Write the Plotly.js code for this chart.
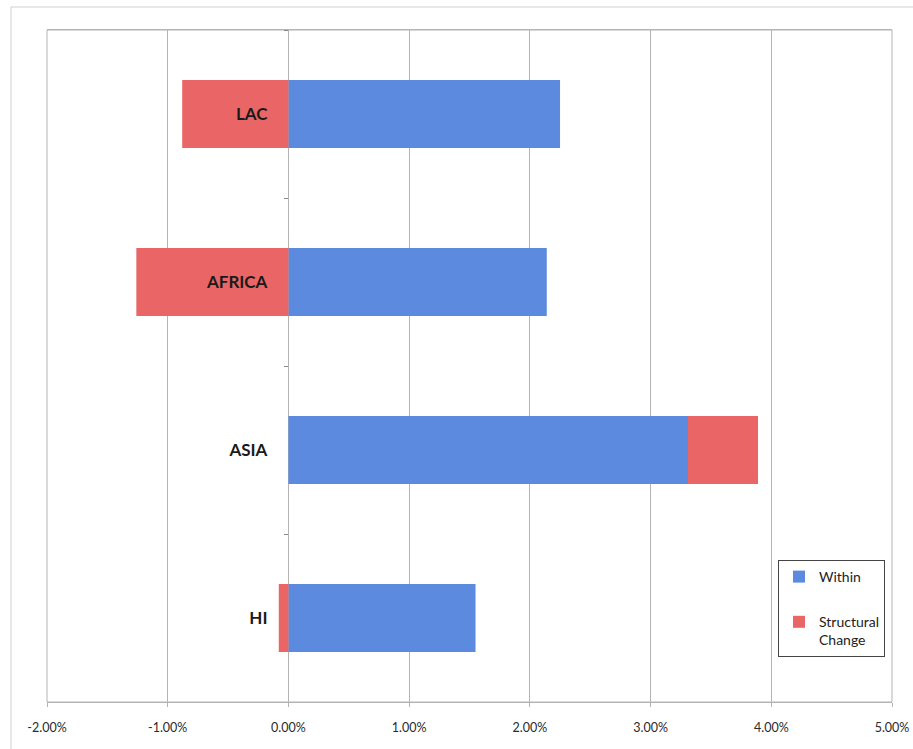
<!DOCTYPE html>
<html>
<head>
<meta charset="utf-8">
<script src="https://cdn.plot.ly/plotly-3.0.1.min.js"></script>
<style>
  html, body { margin: 0; padding: 0; background: #ffffff; }
  #chart { width: 913px; height: 749px; }
</style>
</head>
<body>
<div id="chart"></div>
<script>
// Regions, top to bottom
const regions = ["LAC", "AFRICA", "ASIA", "HI"];

// Productivity growth decomposition, in percent
const withinGrowth = [2.25, 2.14, 3.31, 1.55];
const structuralChange = [-0.88, -1.26, 0.58, -0.08];

// Horizontal axis ticks
const xTickVals = [-2, -1, 0, 1, 2, 3, 4, 5];
const xTickText = ["-2.00%", "-1.00%", "0.00%", "1.00%", "2.00%", "3.00%", "4.00%", "5.00%"];

const blue = "#5b8ade";
const red = "#ea6666";
const gridColor = "#b4b4b4";

const traces = [
  {
    type: "bar",
    orientation: "h",
    name: "Within",
    legendgroup: "within",
    y: regions,
    x: withinGrowth,
    marker: { color: blue },
    hoverinfo: "skip"
  },
  {
    type: "bar",
    orientation: "h",
    name: "Structural<br>Change",
    legendgroup: "structural",
    y: regions,
    x: structuralChange,
    marker: { color: red },
    hoverinfo: "skip"
  }
];

const xMin = -2, xMax = 5;
const zeroFrac = (0 - xMin) / (xMax - xMin);

const layout = {
  width: 913,
  height: 749,
  margin: { l: 47, r: 21, t: 30, b: 47 },
  paper_bgcolor: "#ffffff",
  plot_bgcolor: "#ffffff",
  barmode: "relative",
  bargap: 0.595,
  showlegend: true,
  font: { family: "Lato, 'Open Sans', sans-serif", color: "#222" },
  xaxis: {
    range: [xMin, xMax],
    tickvals: xTickVals,
    ticktext: xTickText,
    tickfont: { size: 12.5, color: "#2a2a2a" },
    showgrid: true,
    gridcolor: gridColor,
    gridwidth: 1,
    zeroline: true,
    zerolinecolor: gridColor,
    zerolinewidth: 1,
    showline: true,
    linecolor: gridColor,
    linewidth: 1,
    mirror: true,
    ticks: "outside",
    ticklen: 4,
    tickcolor: gridColor,
    ticklabelstandoff: 10,
    fixedrange: true
  },
  yaxis: {
    type: "category",
    categoryorder: "array",
    categoryarray: regions,
    autorange: "reversed",
    anchor: "free",
    position: zeroFrac,
    showgrid: false,
    zeroline: false,
    showline: false,
    ticks: "outside",
    tickson: "boundaries",
    ticklen: 4,
    tickcolor: "#888",
    tickfont: { size: 17, color: "#1a1a1a", family: "Lato, 'Open Sans', sans-serif", weight: "bold" },
    ticklabelstandoff: 21,
    fixedrange: true
  },
  legend: {
    x: (778 - 47) / 845,
    y: (702 - 560) / 672,
    xanchor: "left",
    yanchor: "top",
    bgcolor: "#ffffff",
    bordercolor: "#444",
    borderwidth: 1,
    font: { size: 14, color: "#222" },
    traceorder: "grouped",
    tracegroupgap: 24,
    valign: "top",
    itemwidth: 30
  },
  shapes: [
    {
      // plot-area frame
      type: "rect",
      xref: "paper", yref: "paper",
      x0: 0, x1: 1, y0: 0, y1: 1,
      line: { color: gridColor, width: 1 },
      fillcolor: "rgba(0,0,0,0)",
      layer: "below"
    },
    {
      // outer chart frame
      type: "rect",
      xref: "paper", yref: "paper",
      x0: (11 - 47) / 845, x1: (940 - 47) / 845,
      y0: (702 - 760) / 672, y1: (702 - 7) / 672,
      line: { color: "#cfcfcf", width: 1 },
      fillcolor: "rgba(0,0,0,0)",
      layer: "below"
    }
  ]
};

Plotly.newPlot("chart", traces, layout, { displayModeBar: false, staticPlot: true });
</script>
</body>
</html>
